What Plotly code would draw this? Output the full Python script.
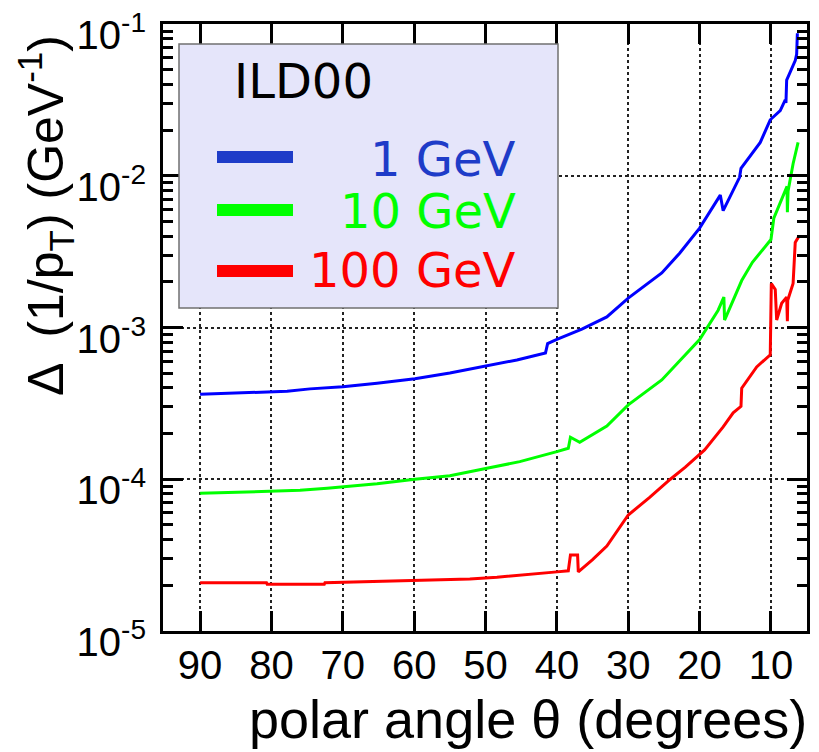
import plotly.graph_objects as go

# ---------------- data ----------------
theta_1gev = [90, 83, 77.8, 74.6, 70, 65.2, 59.9, 55, 49.8, 45.6, 41.6, 41.3, 40, 36.5, 33, 30,
              25.3, 22.8, 20, 17.1, 16.7, 14.4, 14.2, 13, 11.5, 10.1, 8.7, 8.0, 7.9, 7.8, 6.6, 6.4, 6.3]
res_1gev = [3.63e-4, 3.72e-4, 3.80e-4, 3.94e-4, 4.07e-4, 4.29e-4, 4.60e-4, 5.01e-4, 5.57e-4, 6.11e-4,
            6.79e-4, 7.83e-4, 8.34e-4, 9.77e-4, 1.175e-3, 1.563e-3, 2.29e-3, 3.09e-3, 4.52e-3, 7.46e-3,
            5.89e-3, 9.77e-3, 1.12e-2, 1.33e-2, 1.66e-2, 2.34e-2, 2.69e-2, 3.16e-2, 3.02e-2, 4.27e-2,
            5.75e-2, 6.31e-2, 8.71e-2]

theta_10gev = [90, 81.9, 76, 72.2, 70, 65.2, 59.9, 55, 49.8, 45.2, 40, 38.4, 38.1, 37.5, 36.8, 33, 30,
               25.3, 20, 17.4, 16.6, 16.5, 14.1, 12.6, 10, 9.6, 7.75, 7.7, 7.6, 6.9, 6.2]
res_10gev = [8.07e-5, 8.28e-5, 8.45e-5, 8.71e-5, 8.91e-5, 9.33e-5, 1.0e-4, 1.054e-4, 1.18e-4, 1.306e-4,
             1.52e-4, 1.60e-4, 1.89e-4, 1.82e-4, 1.75e-4, 2.24e-4, 3.09e-4, 4.51e-4, 8.32e-4, 1.30e-3,
             1.585e-3, 1.12e-3, 2.04e-3, 2.69e-3, 3.80e-3, 5.25e-3, 8.51e-3, 5.75e-3, 7.94e-3, 1.20e-2,
             1.66e-2]

theta_100gev = [90, 80.7, 80.6, 72.6, 72.5, 57.8, 52.2, 48.4, 45.2, 42.4, 40, 38.4, 38.1, 37.1, 37.0,
                35, 33, 30, 27, 24.1, 22, 19.3, 16.7, 15.3, 14.2, 14.1, 12, 10.1, 9.95, 9.4, 9.2, 8.5,
                7.8, 7.7, 7.65, 6.9, 6.6, 6.1]
res_100gev = [2.08e-5, 2.08e-5, 2.03e-5, 2.03e-5, 2.08e-5, 2.15e-5, 2.20e-5, 2.26e-5, 2.34e-5, 2.40e-5,
              2.45e-5, 2.49e-5, 3.16e-5, 3.16e-5, 2.45e-5, 2.95e-5, 3.63e-5, 5.81e-5, 7.59e-5, 1.0e-4,
              1.20e-4, 1.56e-4, 2.21e-4, 2.74e-4, 3.02e-4, 3.98e-4, 5.50e-4, 6.61e-4, 1.95e-3, 1.78e-3,
              1.12e-3, 1.445e-3, 1.585e-3, 1.10e-3, 1.51e-3, 1.95e-3, 3.63e-3, 3.98e-3]

series_names = ["1 GeV", "10 GeV", "100 GeV"]
x_tick_vals = [90, 80, 70, 60, 50, 40, 30, 20, 10]
x_tick_text = ["90", "80", "70", "60", "50", "40", "30", "20", "10"]
y_tick_vals = [1e-5, 1e-4, 1e-3, 1e-2, 1e-1]
y_tick_text = ["10<sup>-5</sup>", "10<sup>-4</sup>", "10<sup>-3</sup>", "10<sup>-2</sup>", "10<sup>-1</sup>"]
legend_title = "ILD00"
x_title = "polar angle θ (degrees)"
y_title = "Δ\u2002(1/p<sub>T</sub>) (GeV<sup>-1</sup>)"

# ---------------- styling ----------------
curve_colors = ["#0000ff", "#00ff00", "#ff0000"]
legend_colors = ["#1e3cc8", "#00ff00", "#ff0000"]
W, H = 819, 752
# plot frame in page pixels
FX0, FX1, FY0, FY1 = 163, 807, 24, 631
L, T = FX0, FY0
R, B = W - FX1, H - FY1
PW, PH = FX1 - FX0, FY1 - FY0

def px(x):
    return (x - FX0) / PW

def py(y):
    return (FY1 - y) / PH

fig = go.Figure()
for th, vals, col, name in zip([theta_1gev, theta_10gev, theta_100gev],
                               [res_1gev, res_10gev, res_100gev], curve_colors, series_names):
    fig.add_trace(go.Scatter(x=th, y=vals, mode="lines", name=name,
                             line=dict(color=col, width=3), showlegend=False, hoverinfo="skip"))

minor_vals = [m * 10.0 ** e for e in range(-5, -1) for m in range(2, 10)]

fig.update_layout(
    width=W, height=H,
    margin=dict(l=L, r=R, t=T, b=B, pad=0, autoexpand=False),
    paper_bgcolor="white", plot_bgcolor="white",
    showlegend=False,
    font=dict(family="Liberation Sans, Arial, sans-serif", color="black"),
)
fig.update_xaxes(
    automargin=False,
    range=[95.2, 4.95], tickmode="array", tickvals=x_tick_vals, ticktext=x_tick_text,
    ticks="inside", ticklen=20, tickwidth=3, tickcolor="black",
    showline=True, linewidth=3, linecolor="black", mirror="ticks",
    showgrid=True, gridcolor="#222222", griddash="dot", gridwidth=1.5,
    zeroline=False, tickfont=dict(size=40, family="Liberation Sans, Arial"),
    ticklabelstandoff=-3, ticklabeloverflow="allow",
)
fig.update_yaxes(
    automargin=False,
    type="log", range=[-5.0005, -0.9995], tickmode="array", tickvals=y_tick_vals, ticktext=y_tick_text,
    ticks="inside", ticklen=20, tickwidth=3, tickcolor="black",
    showline=True, linewidth=3, linecolor="black", mirror="ticks",
    showgrid=True, gridcolor="#222222", griddash="dot", gridwidth=1.5,
    zeroline=False, tickfont=dict(size=40, family="Liberation Sans, Arial"),
    ticklabelstandoff=6, ticklabelshift=11, ticklabeloverflow="allow",
    minor=dict(tickmode="array", tickvals=minor_vals, ticks="inside", ticklen=10,
               tickwidth=2.5, tickcolor="black", showgrid=False),
)

# legend box
fig.add_shape(type="rect", xref="paper", yref="paper",
              x0=px(179), x1=px(558), y0=py(308), y1=py(44),
              fillcolor="#e5e5fa", line=dict(color="#707070", width=1.5), layer="above")
legend_line_y = [157, 210, 271]
legend_text_y = [159, 211, 270]
for name, col, ly, ty in zip(series_names, legend_colors, legend_line_y, legend_text_y):
    fig.add_shape(type="line", xref="paper", yref="paper",
                  x0=px(217), x1=px(293), y0=py(ly), y1=py(ly),
                  line=dict(color=col, width=12), layer="above")
    fig.add_annotation(xref="paper", yref="paper", x=px(518), y=py(ty),
                       xanchor="right", yanchor="middle", text=name, showarrow=False,
                       font=dict(family="DejaVu Sans", size=48, color=col))
fig.add_annotation(xref="paper", yref="paper", x=px(232), y=py(81),
                   xanchor="left", yanchor="middle", text=legend_title, showarrow=False,
                   font=dict(family="DejaVu Sans", size=48, color="black"))

# axis titles
fig.add_annotation(xref="paper", yref="paper", x=px(528), y=py(719),
                   xanchor="center", yanchor="middle", text=x_title, showarrow=False,
                   font=dict(size=54, family="Liberation Sans, Arial", color="black"))
fig.add_annotation(xref="paper", yref="paper", x=px(45), y=py(216),
                   xanchor="center", yanchor="middle", text=y_title, showarrow=False,
                   textangle=-90,
                   font=dict(size=50, family="Liberation Sans, Arial", color="black"))

# the page body has a default 8px margin; remove it so the figure fills the window
fig.write_html("out.html", config={"displayModeBar": False},
               post_script="document.body.style.margin='0px';document.body.style.overflow='hidden';")
